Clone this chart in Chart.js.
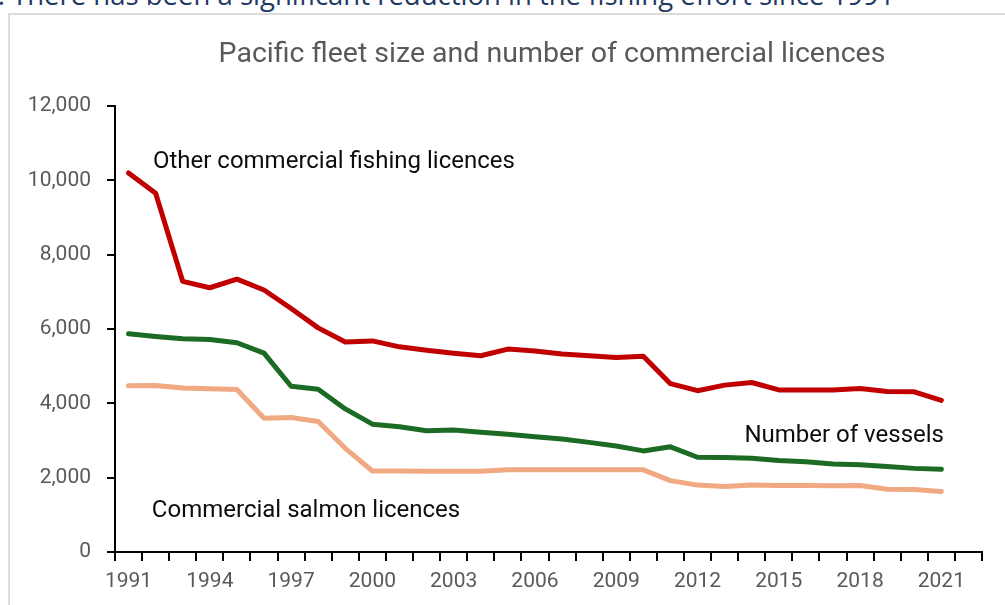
<!DOCTYPE html>
<html>
<head>
<meta charset="utf-8">
<script src="https://cdn.jsdelivr.net/npm/chart.js@4.4.1/dist/chart.umd.min.js"></script>
<style>
  html, body { margin: 0; padding: 0; background: #fff; }
  body { width: 1005px; height: 605px; position: relative; overflow: hidden; }
  #heading {
    position: absolute; left: -18px; top: -19px;
    font-family: "Open Sans", sans-serif; font-size: 27.5px; line-height: 27.5px;
    color: #1f3864; white-space: nowrap;
  }
  #box {
    position: absolute; left: 8px; top: 13px; width: 1100px; height: 700px;
    border: 2px solid #dcdcdc; box-sizing: border-box;
  }
  #wrap { position: absolute; left: 0; top: 0; width: 1005px; height: 605px; }
</style>
</head>
<body>
<div id="heading">1. There has been a significant reduction in the fishing effort since 1991</div>
<div id="box"></div>
<div id="wrap"><canvas id="chart" width="1005" height="605"></canvas></div>
<script>
// Pacific fleet: licences and vessels per year
const years = ['1991','1992','1993','1994','1995','1996','1997','1998','1999','2000',
  '2001','2002','2003','2004','2005','2006','2007','2008','2009','2010',
  '2011','2012','2013','2014','2015','2016','2017','2018','2019','2020','2021','2022'];

const otherLicences = [10200, 9650, 7280, 7110, 7340, 7050, 6550, 6030, 5650, 5680,
  5520, 5430, 5350, 5280, 5460, 5410, 5330, 5280, 5230, 5270,
  4530, 4340, 4490, 4560, 4360, 4360, 4360, 4400, 4320, 4310, 4080];

const vessels = [5870, 5800, 5740, 5720, 5630, 5350, 4460, 4380, 3850, 3440,
  3370, 3260, 3280, 3220, 3170, 3100, 3040, 2950, 2850, 2720,
  2830, 2550, 2540, 2520, 2460, 2430, 2370, 2350, 2300, 2250, 2225];

const salmonLicences = [4470, 4480, 4410, 4390, 4370, 3600, 3620, 3510, 2790, 2180,
  2180, 2170, 2170, 2170, 2210, 2210, 2210, 2210, 2210, 2210,
  1920, 1800, 1760, 1800, 1790, 1790, 1780, 1790, 1690, 1680, 1630];

const yTicks = [0, 2000, 4000, 6000, 8000, 10000, 12000];

// series labels written straight on the plot (year index, value)
const seriesLabels = [
  { text: 'Other commercial fishing licences', at: 0.9, value: 10330 },
  { text: 'Number of vessels', at: 22.73, value: 2960 },
  { text: 'Commercial salmon licences', at: 0.86, value: 940 }
];

const chartTitle = 'Pacific fleet size and number of commercial licences';

const textPlugin = {
  id: 'textPlugin',
  afterDraw(chart) {
    const ctx = chart.ctx;
    const xs = chart.scales.x, ys = chart.scales.y;
    ctx.save();
    ctx.fillStyle = '#595959';
    ctx.font = '28.5px Roboto';
    ctx.textAlign = 'center';
    ctx.textBaseline = 'alphabetic';
    ctx.fillText(chartTitle, 552, 62);

    ctx.fillStyle = '#0d0d0d';
    ctx.font = '24px Roboto';
    ctx.textAlign = 'left';
    const step = (xs.right - xs.left) / years.length;
    seriesLabels.forEach(l => {
      const px = xs.left + step * (l.at + 0.5);
      ctx.fillText(l.text, px, ys.getPixelForValue(l.value));
    });
    ctx.restore();
  }
};

const line = (label, data, color) => ({
  label, data,
  borderColor: color,
  backgroundColor: color,
  borderWidth: 5,
  borderCapStyle: 'round',
  borderJoinStyle: 'round',
  pointRadius: 0,
  tension: 0,
  fill: false
});

new Chart(document.getElementById('chart').getContext('2d'), {
  type: 'line',
  data: {
    labels: years,
    datasets: [
      line('Other commercial fishing licences', otherLicences, '#c00000'),
      line('Number of vessels', vessels, '#1c6b24'),
      line('Commercial salmon licences', salmonLicences, '#f1a983')
    ]
  },
  options: {
    responsive: false,
    animation: false,
    layout: { padding: { left: 0, right: 23, top: 106, bottom: 0 } },
    plugins: {
      legend: { display: false },
      tooltip: { enabled: false },
      title: { display: false }
    },
    scales: {
      x: {
        type: 'category',
        offset: true,
        afterFit: s => { s.height = 53; },
        grid: { offset: true, drawOnChartArea: false, drawTicks: true, tickLength: 9, color: '#000', lineWidth: 2 },
        border: { display: true, color: '#000', width: 2 },
        ticks: {
          autoSkip: false, maxRotation: 0, padding: 8,
          color: '#595959', font: { family: 'Roboto', size: 21 },
          callback: (v, i) => (i % 3 === 0 ? years[i] : '')
        }
      },
      y: {
        min: 0, max: 12000,
        afterFit: s => { s.width = 115; },
        afterBuildTicks: s => { s.ticks = yTicks.map(v => ({ value: v })); },
        grid: { drawOnChartArea: false, drawTicks: true, tickLength: 8, color: '#000', lineWidth: 2 },
        border: { display: true, color: '#000', width: 2 },
        ticks: {
          padding: 16,
          color: '#595959', font: { family: 'Roboto', size: 21 },
          callback: v => v.toLocaleString('en-US')
        }
      }
    }
  },
  plugins: [textPlugin]
});
</script>
</body>
</html>
